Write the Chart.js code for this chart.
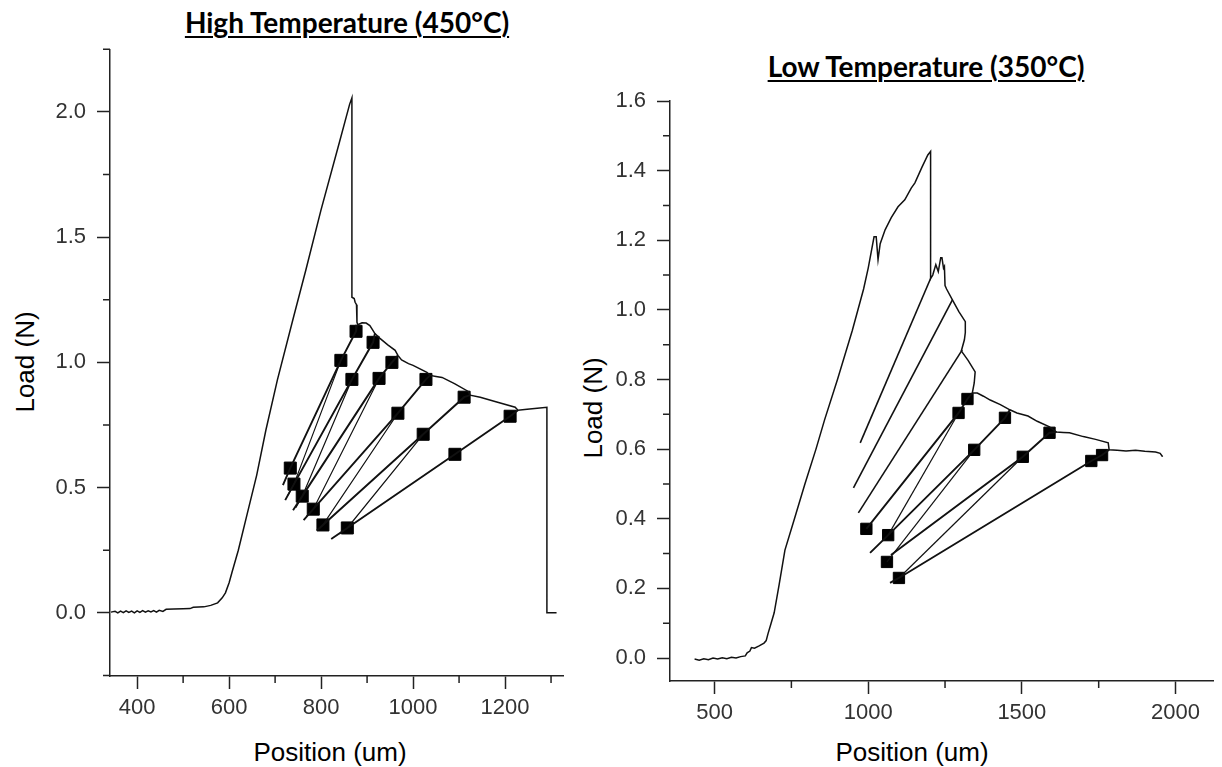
<!DOCTYPE html>
<html>
<head>
<meta charset="utf-8">
<script src="https://cdn.jsdelivr.net/npm/chart.js@4.4.1/dist/chart.umd.min.js"></script>
<style>
    body { margin: 0; background: #fff; }
    #page { position: relative; width: 1222px; height: 767px; overflow: hidden; font-family: "Liberation Sans", Arial, sans-serif; }
    canvas { position: absolute; top: 0; }
    .title { position: absolute; font-family: Lato, "Open Sans", sans-serif; font-weight: bold; font-size: 28px; text-decoration: underline; text-decoration-thickness: 2px; text-underline-offset: 3px; transform: translate(-50%, -50%); white-space: nowrap; line-height: 1; color: #000; }
    .axis-title { position: absolute; font-family: "Liberation Sans", Arial, sans-serif; font-size: 26px; transform: translate(-50%, -50%); white-space: nowrap; line-height: 1; color: #000; }
    .axis-title.y { transform: translate(-50%, -50%) rotate(-90deg); }
</style>
</head>
<body>
<div id="page">
    <div class="title" style="left:347px; top:22px;">High Temperature (450°C)</div>
    <div class="title" style="left:926px; top:66px;">Low Temperature (350°C)</div>
    <div class="axis-title y" style="left:25px; top:362px;">Load (N)</div>
    <div class="axis-title y" style="left:593px; top:408px;">Load (N)</div>
    <div class="axis-title" style="left:330px; top:752px;">Position (um)</div>
    <div class="axis-title" style="left:912px; top:752px;">Position (um)</div>
    <canvas id="CanvasHighTemp" width="600" height="767" style="left:0px;"></canvas>
    <canvas id="CanvasLowTemp" width="652" height="767" style="left:570px;"></canvas>
</div>
<script>
// ---------- High temperature (450°C) ----------
// main trace: baseline, loading ramp, peak, drop, envelope, final drop
const highMain = [
    [343, 0.003], [352, 0.006], [358, 0.0], [364, 0.007], [370, 0.001], [376, 0.008], [382, 0.002],
    [388, 0.007], [394, 0.0], [400, 0.008], [406, 0.002], [412, 0.009], [418, 0.003], [424, 0.008],
    [430, 0.004], [436, 0.009], [442, 0.003], [448, 0.01], [456, 0.006], [463, 0.014], [480, 0.015],
    [500, 0.016], [515, 0.017], [522, 0.022], [545, 0.024], [560, 0.03], [575, 0.04], [585, 0.06],
    [592, 0.08], [600, 0.12], [606, 0.16], [620, 0.25], [640, 0.40], [660, 0.55], [680, 0.73],
    [705, 0.93], [740, 1.18], [767, 1.37], [800, 1.61], [840, 1.88], [862, 2.03], [867, 2.056],
    [867, 1.26], [872, 1.255], [874, 1.24], [877, 1.23], [878, 1.16], [880, 1.15], [889, 1.158],
    [898, 1.157], [906, 1.147], [912, 1.13], [917, 1.115], [928, 1.096], [945, 1.07], [961, 1.048],
    [967, 1.028], [975, 1.01], [990, 0.995], [1000, 0.988], [1030, 0.96], [1037, 0.948], [1050, 0.944],
    [1063, 0.940], [1090, 0.915], [1120, 0.884], [1124, 0.869], [1146, 0.861], [1180, 0.843],
    [1222, 0.821], [1228, 0.809], [1248, 0.813], [1270, 0.817], [1291, 0.821], [1291, 0.0], [1312, 0.0]
];
// unloading branches (top -> middle -> bottom marker -> tail)
const highUnload1 = [[878, 1.15], [876, 1.124], [843, 1.008], [733, 0.578], [717, 0.51]];
const highUnload2 = [[917, 1.115], [913, 1.08], [867, 0.932], [741, 0.514], [722, 0.45]];
const highUnload3 = [[967, 1.028], [954, 1.0], [926, 0.936], [759, 0.466], [739, 0.41]];
const highUnload4 = [[1037, 0.948], [1028, 0.932], [967, 0.797], [783, 0.414], [762, 0.37]];
const highUnload5 = [[1124, 0.869], [1111, 0.861], [1022, 0.713], [804, 0.351], [791, 0.33]];
const highUnload6 = [[1228, 0.809], [1211, 0.785], [1091, 0.633], [857, 0.339], [822, 0.295]];
// thinner return lines
const highReturn1 = [[843, 1.008], [741, 0.514], [728, 0.47]];
const highReturn2 = [[867, 0.932], [759, 0.466], [745, 0.42]];
const highReturn3 = [[926, 0.936], [783, 0.414], [768, 0.385]];
const highReturn4 = [[967, 0.797], [804, 0.351], [795, 0.335]];
const highReturn5 = [[1022, 0.713], [857, 0.339], [840, 0.315]];
// square markers
const highMarkers = [
    [876, 1.124], [913, 1.080], [954, 1.000], [1028, 0.932], [1111, 0.861], [1211, 0.785],
    [843, 1.008], [867, 0.932], [926, 0.936], [967, 0.797], [1022, 0.713], [1091, 0.633],
    [733, 0.578], [741, 0.514], [759, 0.466], [783, 0.414], [804, 0.351], [857, 0.339]
];
const highXTicks = [400, 600, 800, 1000, 1200];
const highXMinor = [500, 700, 900, 1100, 1300];
const highYTicks = [0.0, 0.5, 1.0, 1.5, 2.0];
const highYMinor = [-0.25, 0.25, 0.75, 1.25, 1.75, 2.25];

// ---------- Low temperature (350°C) ----------
const lowMain = [
    [435, -0.003], [450, -0.006], [465, -0.002], [480, -0.005], [495, 0.0], [510, -0.003], [525, 0.001],
    [540, -0.002], [555, 0.002], [570, 0.0], [585, 0.004], [600, 0.006], [606, 0.015], [615, 0.02],
    [620, 0.03], [630, 0.028], [645, 0.035], [661, 0.043], [668, 0.05], [674, 0.07], [684, 0.1],
    [694, 0.13], [710, 0.21], [729, 0.31], [760, 0.40], [794, 0.50], [830, 0.60], [858, 0.684],
    [900, 0.80], [948, 0.94], [985, 1.06], [1000, 1.12], [1019, 1.21], [1026, 1.21], [1032, 1.144],
    [1039, 1.19], [1055, 1.23], [1075, 1.265], [1097, 1.296], [1119, 1.316], [1140, 1.35],
    [1152, 1.365], [1175, 1.41], [1194, 1.445], [1203, 1.455], [1203, 1.09], [1210, 1.10],
    [1220, 1.13], [1228, 1.11], [1236, 1.15], [1240, 1.15], [1245, 1.12], [1248, 1.125], [1250, 1.07],
    [1255, 1.06], [1274, 1.029], [1295, 0.995], [1316, 0.966], [1316, 0.935], [1313, 0.914],
    [1303, 0.882], [1325, 0.855], [1348, 0.822], [1345, 0.79], [1339, 0.762], [1330, 0.752],
    [1342, 0.762], [1355, 0.761], [1375, 0.752], [1397, 0.741], [1430, 0.728], [1461, 0.713],
    [1484, 0.704], [1520, 0.695], [1550, 0.68], [1590, 0.664], [1613, 0.649], [1635, 0.648],
    [1655, 0.647], [1700, 0.636], [1740, 0.628], [1781, 0.618], [1784, 0.598], [1810, 0.597],
    [1839, 0.595], [1870, 0.597], [1900, 0.594], [1935, 0.592], [1950, 0.588], [1958, 0.578]
];
const lowUnload1 = [[1203, 1.09], [974, 0.618]];
const lowUnload2 = [[1274, 1.029], [952, 0.489]];
const lowUnload3 = [[1306, 0.885], [968, 0.417]];
const lowUnload4 = [[1330, 0.752], [1323, 0.744], [1294, 0.704], [994, 0.371]];
const lowUnload5 = [[1461, 0.713], [1445, 0.690], [1345, 0.598], [1065, 0.353], [1006, 0.302]];
const lowUnload6 = [[1613, 0.649], [1590, 0.647], [1503, 0.578], [1074, 0.296]];
const lowUnload7 = [[1784, 0.598], [1761, 0.583], [1726, 0.566], [1100, 0.230], [1071, 0.216]];
const lowReturn1 = [[1294, 0.704], [1065, 0.353]];
const lowReturn2 = [[1345, 0.598], [1061, 0.276]];
const lowReturn3 = [[1503, 0.578], [1100, 0.230]];
const lowMarkers = [
    [1323, 0.744], [1294, 0.704], [1445, 0.690], [1345, 0.598], [1590, 0.647], [1503, 0.578],
    [1761, 0.583], [1726, 0.566], [994, 0.371], [1065, 0.353], [1061, 0.276], [1100, 0.230]
];
const lowXTicks = [500, 1000, 1500, 2000];
const lowXMinor = [750, 1250, 1750];
const lowYTicks = [0.0, 0.2, 0.4, 0.6, 0.8, 1.0, 1.2, 1.4, 1.6];
const lowYMinor = [0.1, 0.3, 0.5, 0.7, 0.9, 1.1, 1.3, 1.5];

const axisColor = "#222";
const lineColor = "#111";

function toPoints(pairs) {
    return pairs.map(p => ({ x: p[0], y: p[1] }));
}

function lineDataset(pairs, width) {
    return {
        data: toPoints(pairs),
        showLine: true,
        borderColor: lineColor,
        borderWidth: width,
        pointRadius: 0,
        tension: 0,
        fill: false
    };
}

function markerDataset(pairs, radius) {
    return {
        data: toPoints(pairs),
        showLine: false,
        pointStyle: 'rect',
        pointRadius: radius,
        backgroundColor: "#000",
        borderColor: "#000",
        borderWidth: 1
    };
}

// short minor tick marks between the labelled ones
const minorTicks = {
    id: 'minorTicks',
    afterDraw(chart, args, opts) {
        const ctx = chart.ctx;
        const xs = chart.scales.x;
        const ys = chart.scales.y;
        ctx.save();
        ctx.strokeStyle = axisColor;
        ctx.lineWidth = 1.5;
        ctx.beginPath();
        opts.x.forEach(v => {
            const px = xs.getPixelForValue(v);
            ctx.moveTo(px, xs.top);
            ctx.lineTo(px, xs.top + 7);
        });
        opts.y.forEach(v => {
            const py = ys.getPixelForValue(v);
            ctx.moveTo(ys.right, py);
            ctx.lineTo(ys.right - 7, py);
        });
        ctx.stroke();
        ctx.restore();
    }
};

function makeChart(canvas, cfg) {
    return new Chart(canvas, {
        type: 'scatter',
        data: { datasets: cfg.datasets },
        plugins: [minorTicks],
        options: {
            responsive: false,
            animation: false,
            events: [],
            layout: { padding: cfg.padding },
            plugins: {
                legend: { display: false },
                tooltip: { enabled: false },
                minorTicks: { x: cfg.xMinor, y: cfg.yMinor }
            },
            scales: {
                x: {
                    type: 'linear',
                    min: cfg.xMin,
                    max: cfg.xMax,
                    afterFit: s => { s.height = cfg.xHeight; },
                    afterBuildTicks: s => { s.ticks = cfg.xTicks.map(v => ({ value: v })); },
                    border: { display: true, color: axisColor, width: 1.5 },
                    grid: { drawOnChartArea: false, drawTicks: true, tickLength: 13, tickColor: axisColor, tickWidth: 1.5 },
                    ticks: {
                        autoSkip: false,
                        maxRotation: 0,
                        padding: 6,
                        color: "#333",
                        font: { family: "'Liberation Sans', Arial, sans-serif", size: 22 },
                        callback: v => String(v)
                    }
                },
                y: {
                    type: 'linear',
                    min: cfg.yMin,
                    max: cfg.yMax,
                    afterFit: s => { s.width = cfg.yWidth; },
                    afterBuildTicks: s => { s.ticks = cfg.yTicks.map(v => ({ value: v })); },
                    border: { display: true, color: axisColor, width: 1.5 },
                    grid: { drawOnChartArea: false, drawTicks: true, tickLength: 13, tickColor: axisColor, tickWidth: 1.5 },
                    ticks: {
                        autoSkip: false,
                        padding: 11,
                        color: "#333",
                        font: { family: "'Liberation Sans', Arial, sans-serif", size: 22 },
                        callback: v => v.toFixed(1)
                    }
                }
            }
        }
    });
}

const highDatasets = [
    lineDataset(highMain, 1.5),
    lineDataset(highUnload1, 1.9), lineDataset(highUnload2, 1.9), lineDataset(highUnload3, 1.9),
    lineDataset(highUnload4, 1.9), lineDataset(highUnload5, 1.9), lineDataset(highUnload6, 1.9),
    lineDataset(highReturn1, 1.2), lineDataset(highReturn2, 1.2), lineDataset(highReturn3, 1.2),
    lineDataset(highReturn4, 1.2), lineDataset(highReturn5, 1.2),
    markerDataset(highMarkers, 8.5)
];

const lowDatasets = [
    lineDataset(lowMain, 1.5),
    lineDataset(lowUnload1, 1.6), lineDataset(lowUnload2, 1.6), lineDataset(lowUnload3, 1.6),
    lineDataset(lowUnload4, 1.9), lineDataset(lowUnload5, 1.9), lineDataset(lowUnload6, 1.9),
    lineDataset(lowUnload7, 1.9),
    lineDataset(lowReturn1, 1.2), lineDataset(lowReturn2, 1.2), lineDataset(lowReturn3, 1.2),
    markerDataset(lowMarkers, 8)
];

makeChart(document.getElementById("CanvasHighTemp"), {
    datasets: highDatasets,
    padding: { left: 0, right: 37, top: 50, bottom: 0 },
    xMin: 341, xMax: 1326, yMin: -0.252, yMax: 2.247,
    xHeight: 91, yWidth: 110,
    xTicks: highXTicks, yTicks: highYTicks,
    xMinor: highXMinor, yMinor: highYMinor
});

makeChart(document.getElementById("CanvasLowTemp"), {
    datasets: lowDatasets,
    padding: { left: 0, right: 4, top: 101, bottom: 0 },
    xMin: 355, xMax: 2122, yMin: -0.066, yMax: 1.6,
    xHeight: 86, yWidth: 100,
    xTicks: lowXTicks, yTicks: lowYTicks,
    xMinor: lowXMinor, yMinor: lowYMinor
});
</script>
</body>
</html>
